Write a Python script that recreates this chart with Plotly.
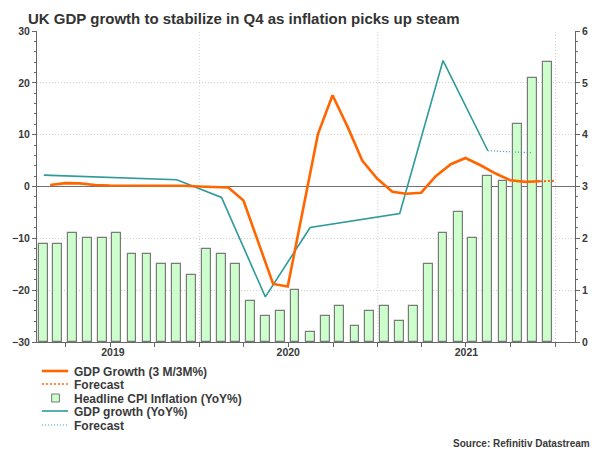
import pandas as pd
import plotly.graph_objects as go

# Headline CPI inflation (YoY%), monthly Feb 2019 - Dec 2021 (right axis)
cpi_months = pd.date_range("2019-02-01", "2021-12-01", freq="MS") + pd.Timedelta(days=14)
cpi_yoy = [1.9, 1.9, 2.1, 2.0, 2.0, 2.1, 1.7, 1.7, 1.5, 1.5, 1.3,
           1.8, 1.7, 1.5, 0.8, 0.5, 0.6, 1.0, 0.2, 0.5, 0.7, 0.3, 0.6,
           0.7, 0.4, 0.7, 1.5, 2.1, 2.5, 2.0, 3.2, 3.1, 4.2, 5.1, 5.4]

# GDP growth 3M/3M%, month end Feb 2019 - Nov 2021 (left axis)
gdp_3m_dates = pd.date_range("2019-02-28", "2021-11-30", freq="ME")
gdp_3m = [0.3, 0.65, 0.6, 0.3, 0.2, 0.2, 0.2, 0.2, 0.2, 0.15, 0.0,
          -0.1, -0.2, -2.7, -10.8, -18.8, -19.3, -4.5, 10.1, 17.6, 11.5, 5.0, 1.5,
          -1.0, -1.4, -1.2, 2.0, 4.3, 5.5, 4.1, 2.5, 1.2, 0.9, 1.0]
gdp_3m_fc_dates = ["2021-11-30", "2021-12-31"]
gdp_3m_fc = [1.0, 1.1]

# GDP growth YoY%, quarterly points
gdp_yoy_dates = ["2019-02-15", "2019-11-15", "2020-02-15", "2020-05-15",
                 "2020-08-15", "2021-02-15", "2021-05-15", "2021-08-15"]
gdp_yoy = [2.2, 1.3, -2.1, -21.3, -7.9, -5.2, 24.3, 6.9]
gdp_yoy_fc_dates = ["2021-08-15", "2021-11-15"]
gdp_yoy_fc = [6.9, 6.5]

year_labels = ["2019", "2020", "2021"]
year_label_pos = ["2019-07-07", "2020-07-01", "2021-07-02"]
year_starts = ["2020-01-01", "2021-01-01", "2022-01-01"]

ORANGE = "#ff6600"
TEAL = "#2e9a9a"
BAR_FILL = "#ccffcc"
BAR_EDGE = "#7a7a7a"
AXIS = "#666666"
GRID = "#d0d0d0"
TXT = "#3a3a3a"
FONT = "Liberation Sans, Arial, sans-serif"
FINE_DOT = "1px,2px"

# plot area in pixels (for placing the hand drawn legend)
L, R, T, B = 28, 580, 31, 342


def px(x):
    return (x - L) / (R - L)


def py(y):
    return (B - y) / (B - T)


fig = go.Figure()

fig.add_trace(go.Bar(x=cpi_months, y=cpi_yoy, width=18 * 86400000,
                     marker=dict(color=BAR_FILL, line=dict(color=BAR_EDGE, width=1.2)),
                     yaxis="y", showlegend=False))
fig.add_trace(go.Scatter(x=gdp_yoy_dates, y=gdp_yoy, mode="lines",
                         line=dict(color=TEAL, width=1.6), yaxis="y2", showlegend=False))
fig.add_trace(go.Scatter(x=gdp_yoy_fc_dates, y=gdp_yoy_fc, mode="lines",
                         line=dict(color=TEAL, width=1.2, dash=FINE_DOT), yaxis="y2", showlegend=False))
fig.add_trace(go.Scatter(x=gdp_3m_dates, y=gdp_3m, mode="lines",
                         line=dict(color=ORANGE, width=2.6), yaxis="y2", showlegend=False))
fig.add_trace(go.Scatter(x=gdp_3m_fc_dates, y=gdp_3m_fc, mode="lines",
                         line=dict(color=ORANGE, width=2, dash="2px,2px"), yaxis="y2", showlegend=False))

tickfont = dict(family=FONT, size=10.5, color=TXT, weight="bold")

fig.update_layout(
    width=600, height=450,
    margin=dict(l=L, r=600 - R, t=T, b=450 - B),
    paper_bgcolor="white", plot_bgcolor="white",
    bargap=0,
    title=dict(text="UK GDP growth to stabilize in Q4 as inflation picks up steam",
               xref="container", yref="container", x=28 / 600, y=1 - 19 / 450,
               xanchor="left", yanchor="middle",
               font=dict(family=FONT, size=15, color="#333333", weight="bold")),
    xaxis=dict(type="date", range=["2019-02-01", "2022-02-10"],
               tickmode="array", tickvals=year_label_pos, ticktext=year_labels,
               ticks="", showgrid=False, showline=True, linecolor=AXIS, linewidth=1,
               zeroline=False, tickfont=tickfont,
               minor=dict(tickmode="linear", tick0="2019-01-01", dtick="M3",
                          ticks="outside", ticklen=4, tickcolor=AXIS, showgrid=False)),
    yaxis=dict(side="right", range=[0, 6], tickmode="linear", tick0=0, dtick=1,
               ticks="outside", ticklen=4, tickcolor=AXIS,
               showline=True, linecolor=AXIS, linewidth=1,
               showgrid=True, gridcolor=GRID, griddash=FINE_DOT, gridwidth=1,
               zeroline=False, tickfont=tickfont,
               minor=dict(tickmode="linear", tick0=0, dtick=0.2, ticks="outside",
                          ticklen=2, tickcolor=AXIS, showgrid=False)),
    yaxis2=dict(overlaying="y", side="left", anchor="x", range=[-30, 30],
                tickmode="linear", tick0=-30, dtick=10,
                ticks="outside", ticklen=4, tickcolor=AXIS,
                showline=True, linecolor=AXIS, linewidth=1, showgrid=False,
                zeroline=True, zerolinecolor="#707070", zerolinewidth=1,
                tickfont=tickfont,
                minor=dict(tickmode="linear", tick0=-30, dtick=2, ticks="outside",
                           ticklen=2, tickcolor=AXIS, showgrid=False)),
)

# vertical grid at year boundaries
for d in year_starts:
    fig.add_shape(type="line", xref="x", yref="paper", x0=d, x1=d, y0=0, y1=1,
                  line=dict(color=GRID, width=1, dash=FINE_DOT), layer="below")

# legend below the plot, drawn by hand to get the tight row spacing
legend_rows = [
    ("GDP Growth (3 M/3M%)", "line", ORANGE, 2.6, "solid", 371),
    ("Forecast", "line", ORANGE, 1.6, "2px,2px", 384),
    ("Headline CPI Inflation (YoY%)", "box", BAR_FILL, 1, "solid", 398),
    ("GDP growth (YoY%)", "line", TEAL, 1.6, "solid", 411),
    ("Forecast", "line", TEAL, 1.2, FINE_DOT, 425),
]
for label, kind, color, w, dash, y in legend_rows:
    if kind == "line":
        fig.add_shape(type="line", xref="paper", yref="paper",
                      x0=px(33), x1=px(60), y0=py(y), y1=py(y),
                      line=dict(color=color, width=w, dash=dash))
    else:
        fig.add_shape(type="rect", xref="paper", yref="paper",
                      x0=px(43), x1=px(51), y0=py(y - 4), y1=py(y + 4),
                      fillcolor=color, line=dict(color=BAR_EDGE, width=1))
    fig.add_annotation(text=label, xref="paper", yref="paper", x=px(64), y=py(y + 1),
                       xanchor="left", yanchor="middle", showarrow=False,
                       font=dict(family=FONT, size=12, color=TXT, weight="bold"))

fig.add_annotation(text="Source: Refinitiv Datastream", xref="paper", yref="paper",
                   x=px(597), y=py(443), xanchor="right", yanchor="middle", showarrow=False,
                   font=dict(family=FONT, size=10, color=TXT, weight="bold"))

# page has a default body margin; drop it so the figure sits at the window corner
fig.write_html("out.html", config={"displayModeBar": False},
               post_script="document.body.style.margin='0';")
